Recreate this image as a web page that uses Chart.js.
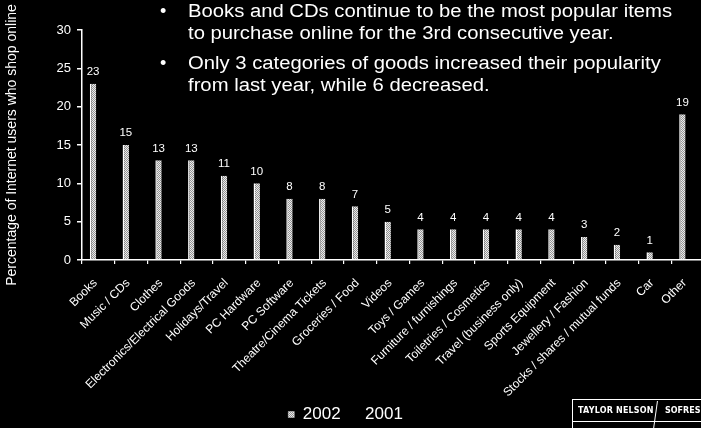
<!DOCTYPE html>
<html>
<head>
<meta charset="utf-8">
<script src="https://cdn.jsdelivr.net/npm/chart.js@4"></script>
<style>
  html, body { margin: 0; padding: 0; background: #000; width: 701px; height: 428px; overflow: hidden; }
  #wrap { position: absolute; left: -15px; top: 0; width: 725px; height: 428px; }
  #notes { position: absolute; left: 0; top: 0; color: #fff; font-family: "Liberation Sans", Arial, sans-serif; font-size: 18px; line-height: 22px; }
  .line { position: absolute; white-space: nowrap; left: 188px; transform-origin: 0 0; transform: scaleX(1.125); }
  .dot { position: absolute; left: 160px; }
  #logo { position: absolute; left: 572px; top: 399px; width: 140px; height: 40px; border: 1.5px solid #fff; box-sizing: border-box; color: #fff;
          font-family: "DejaVu Sans", sans-serif; font-weight: bold; font-size: 8px; }
  #logo .rule { position: absolute; left: 0; right: 0; top: 21px; border-top: 1.5px solid #fff; }
  #logo .a { position: absolute; left: 5px; top: 6px; letter-spacing: 0.2px; }
  #logo .b { position: absolute; left: 92px; top: 6px; letter-spacing: 0px; }
  #logo .bar { position: absolute; left: 82px; top: 1px; height: 28px; border-left: 1.5px solid #fff; transform: skewX(-8deg); }
</style>
</head>
<body>
<div id="wrap"><canvas id="c" width="725" height="428"></canvas></div>
<div id="notes">
  <div class="dot" style="top:0">•</div>
  <div class="line" style="top:0">Books and CDs continue to be the most popular items</div>
  <div class="line" style="top:22px">to purchase online for the 3rd consecutive year.</div>
  <div class="dot" style="top:52px">•</div>
  <div class="line" style="top:52px">Only 3 categories of goods increased their popularity</div>
  <div class="line" style="top:74px">from last year, while 6 decreased.</div>
</div>
<div id="logo"><span class="a">TAYLOR NELSON</span><span class="bar"></span><span class="b">SOFRES</span><div class="rule"></div></div>
<script>
const categories = [
  "Books", "Music / CDs", "Clothes", "Electronics/Electrical Goods", "Holidays/Travel",
  "PC Hardware", "PC Software", "Theatre/Cinema Tickets", "Groceries / Food", "Videos",
  "Toys / Games", "Furniture / furnishings", "Toiletries / Cosmetics", "Travel (business only)",
  "Sports Equipment", "Jewellery / Fashion", "Stocks / shares / mutual funds", "Car", "Other"
];
const values2002 = [23, 15, 13, 13, 11, 10, 8, 8, 7, 5, 4, 4, 4, 4, 4, 3, 2, 1, 19];
// 2001 bars are drawn in black on the black background, so no values are shown for them
const values2001 = [null, null, null, null, null, null, null, null, null, null,
                    null, null, null, null, null, null, null, null, null];
const seriesNames = ["2002", "2001"];
const yMin = 0, yMax = 30, yStep = 5;
const yTitle = "Percentage of Internet users who shop online";

const FONT = '"Liberation Sans", Arial, sans-serif';
const PLOT_BOTTOM = 260;
const PAD_BOTTOM = -5;

function stipple() {
  const c = document.createElement('canvas');
  c.width = 2; c.height = 2;
  const g = c.getContext('2d');
  g.fillStyle = '#ececec'; g.fillRect(0, 0, 2, 2);
  g.fillStyle = '#949494'; g.fillRect(1, 0, 1, 1); g.fillRect(0, 1, 1, 1);
  return g.createPattern(c, 'repeat');
}

const valueLabels = {
  id: 'valueLabels',
  afterDatasetsDraw(chart) {
    const meta = chart.getDatasetMeta(0);
    const ctx = chart.ctx;
    ctx.save();
    ctx.fillStyle = '#fff';
    ctx.font = '11.5px ' + FONT;
    ctx.textAlign = 'center';
    ctx.textBaseline = 'middle';
    meta.data.forEach((bar, i) => {
      ctx.fillText(String(values2002[i]), bar.x, bar.y - 12);
    });
    ctx.restore();
  }
};

new Chart(document.getElementById('c'), {
  type: 'bar',
  data: {
    labels: categories,
    datasets: [
      { label: seriesNames[0], data: values2002, backgroundColor: stipple(),
        borderColor: '#ffffff', borderWidth: { left: 1.5, top: 0, right: 0, bottom: 0 }, borderSkipped: false },
      { label: seriesNames[1], data: values2001, backgroundColor: '#000000', borderWidth: 0 }
    ]
  },
  options: {
    responsive: false,
    animation: false,
    devicePixelRatio: 1,
    layout: { padding: { top: 30, right: 3.8, bottom: PAD_BOTTOM, left: 0 } },
    datasets: { bar: { categoryPercentage: 0.65, barPercentage: 0.6 } },
    plugins: {
      legend: {
        position: 'bottom',
        labels: { color: '#fff', font: { size: 17, family: FONT }, boxWidth: 6, boxHeight: 6, padding: 10 }
      },
      tooltip: { enabled: false }
    },
    scales: {
      x: {
        grid: { display: true, drawOnChartArea: false, tickLength: 4, color: '#fff', lineWidth: 1.2, offset: true },
        border: { color: '#fff', width: 1.5 },
        ticks: { color: '#fff', font: { size: 12, family: FONT }, minRotation: 45, maxRotation: 45, autoSkip: false, padding: 12, labelOffset: -3 },
        afterFit(s) {
          const legendH = s.chart.legend ? s.chart.legend.height : 0;
          s.height = s.chart.height - PAD_BOTTOM - legendH - PLOT_BOTTOM;
        }
      },
      y: {
        min: yMin, max: yMax,
        ticks: { stepSize: yStep, color: '#fff', font: { size: 13, family: FONT }, padding: 6 },
        grid: { drawOnChartArea: false, tickLength: 5, color: '#fff', lineWidth: 1.5 },
        border: { color: '#fff', width: 1.5 },
        title: { display: true, text: yTitle, color: '#fff', font: { size: 14, family: FONT }, padding: { top: 18.5, bottom: 0 } },
        afterFit(s) { s.width = 97; }
      }
    }
  },
  plugins: [valueLabels]
});
</script>
</body>
</html>
